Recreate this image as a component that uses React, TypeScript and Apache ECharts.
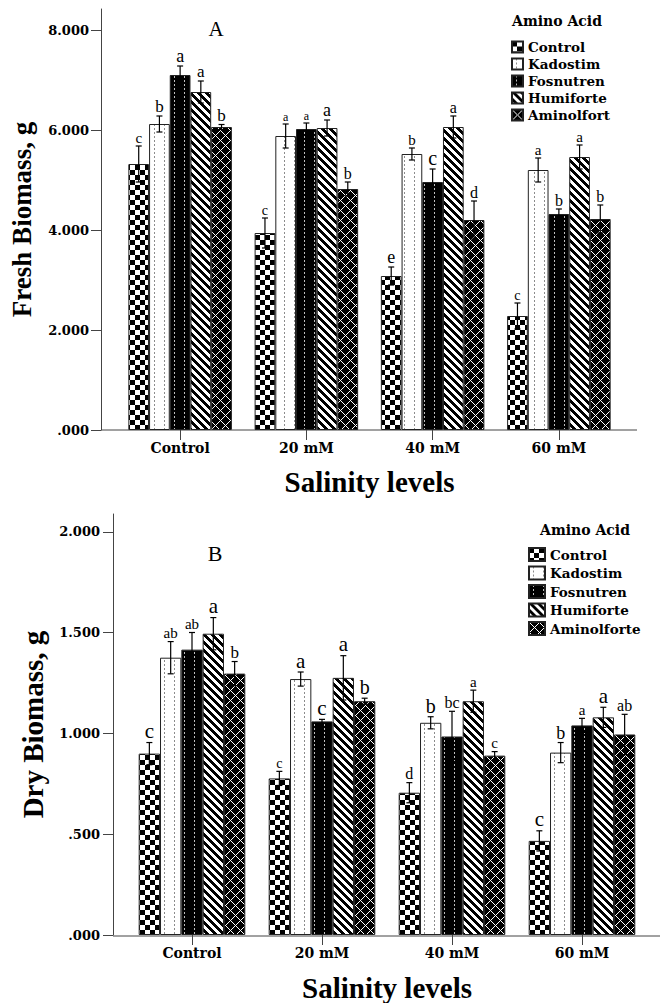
import React, { useEffect, useRef } from 'react';
import * as echarts from 'echarts';

// ---------- data ----------
const categories = ['Control', '20 mM', '40 mM', '60 mM'];
const treatmentsA = ['Control', 'Kadostim', 'Fosnutren', 'Humiforte', 'Aminolfort'];
const treatmentsB = ['Control', 'Kadostim', 'Fosnutren', 'Humiforte', 'Aminolforte'];

const yTicksA = [0, 2, 4, 6, 8];
const yTicksB = [0, 0.5, 1, 1.5, 2];

// Fresh biomass (g)
const freshControl = [5.32, 3.94, 3.08, 2.28];
const freshKadostim = [6.12, 5.88, 5.52, 5.2];
const freshFosnutren = [7.1, 6.02, 4.96, 4.32];
const freshHumiforte = [6.76, 6.04, 6.06, 5.46];
const freshAminolfort = [6.06, 4.82, 4.2, 4.22];

const freshControlErr = [0.36, 0.3, 0.18, 0.26];
const freshKadostimErr = [0.16, 0.24, 0.12, 0.24];
const freshFosnutrenErr = [0.18, 0.12, 0.26, 0.1];
const freshHumiforteErr = [0.22, 0.16, 0.22, 0.24];
const freshAminolfortErr = [0.05, 0.14, 0.38, 0.28];

const freshControlLet = ['c', 'c', 'e', 'c'];
const freshKadostimLet = ['b', 'a', 'b', 'a'];
const freshFosnutrenLet = ['a', 'a', 'c', 'b'];
const freshHumiforteLet = ['a', 'a', 'a', 'a'];
const freshAminolfortLet = ['b', 'b', 'd', 'b'];

// Dry biomass (g)
const dryControl = [0.9, 0.777, 0.706, 0.467];
const dryKadostim = [1.376, 1.27, 1.053, 0.905];
const dryFosnutren = [1.416, 1.06, 0.985, 1.04];
const dryHumiforte = [1.495, 1.276, 1.16, 1.08];
const dryAminolforte = [1.297, 1.16, 0.89, 0.995];

const dryControlErr = [0.055, 0.035, 0.05, 0.05];
const dryKadostimErr = [0.08, 0.035, 0.03, 0.05];
const dryFosnutrenErr = [0.085, 0.01, 0.125, 0.035];
const dryHumiforteErr = [0.08, 0.11, 0.055, 0.05];
const dryAminolforteErr = [0.06, 0.015, 0.02, 0.1];

const dryControlLet = ['c', 'c', 'd', 'c'];
const dryKadostimLet = ['ab', 'a', 'b', 'b'];
const dryFosnutrenLet = ['ab', 'c', 'bc', 'a'];
const dryHumiforteLet = ['a', 'a', 'a', 'a'];
const dryAminolforteLet = ['b', 'b', 'c', 'ab'];

// letter font sizes (style)
const letterSizeA = [
  [15, 14, 18, 14],
  [17, 12, 15, 15],
  [18, 12, 20, 16],
  [17, 18, 16, 15],
  [17, 16, 16, 16],
];
const letterSizeB = [
  [21, 14, 16, 21],
  [15, 21, 20, 18],
  [15, 21, 16, 15],
  [21, 21, 15, 21],
  [17, 20, 15, 16],
];

const GAP = 0.18;

function makePattern(kind: string) {
  let w = 8;
  let h = 8;
  if (kind === 'checker') { w = 10; h = 10; }
  if (kind === 'kados' || kind === 'fos') { w = 10; h = 4; }
  if (kind === 'amino') { w = 10; h = 10; }
  const c = document.createElement('canvas');
  c.width = w;
  c.height = h;
  const ctx = c.getContext('2d')!;
  const img = ctx.createImageData(w, h);
  for (let y = 0; y < h; y++) {
    for (let x = 0; x < w; x++) {
      let v = 255;
      if (kind === 'checker') {
        v = (Math.floor(x / 5) + Math.floor(y / 5)) % 2 === 0 ? 0 : 255;
      } else if (kind === 'kados') {
        v = x === 4 && y < 2 ? 140 : 255;
      } else if (kind === 'fos') {
        v = x === 4 && y < 2 ? 190 : 0;
      } else if (kind === 'humi') {
        v = (((x - y) % 8) + 8) % 8 < 4 ? 0 : 255;
      } else if (kind === 'amino') {
        const a = (x + y) % 10;
        const b = (((x - y) % 10) + 10) % 10;
        v = a === 0 || b === 0 ? 255 : 0;
      }
      const i = (y * w + x) * 4;
      img.data[i] = v;
      img.data[i + 1] = v;
      img.data[i + 2] = v;
      img.data[i + 3] = 255;
    }
  }
  ctx.putImageData(img, 0, 0);
  return { image: c.toDataURL(), repeat: 'repeat', imageWidth: w, imageHeight: h };
}

const tickFmt = (v: number) => {
  const s = Number(v).toFixed(3);
  return s.startsWith('0') ? s.slice(1) : s;
};

const labelFont = { fontFamily: 'DejaVu Serif', fontWeight: 'bold' as const, color: '#000' };
const axisColor = '#444';

function errSeries(
  gi: number, si: number, means: number[], errs: number[], letters: string[], sizes: number[]
) {
  return {
    type: 'custom',
    xAxisIndex: gi,
    yAxisIndex: gi,
    z: 5,
    silent: true,
    data: means.map((m, k) => [k, m, errs[k]]),
    renderItem: (params: any, api: any) => {
      const cat = api.value(0);
      const val = api.value(1);
      const err = api.value(2);
      const band = api.size([1, 0])[0];
      const group = band * (1 - GAP);
      const bw = group / 5;
      const cx = api.coord([cat, val])[0] - group / 2 + bw * (si + 0.5);
      const yT = api.coord([cat, val + err])[1];
      const yB = api.coord([cat, val - err])[1];
      const cap = 3;
      const ls = { stroke: '#000', lineWidth: 1.2 };
      return {
        type: 'group',
        children: [
          { type: 'line', shape: { x1: cx, y1: yT, x2: cx, y2: yB }, style: ls },
          { type: 'line', shape: { x1: cx - cap, y1: yT, x2: cx + cap, y2: yT }, style: ls },
          { type: 'line', shape: { x1: cx - cap, y1: yB, x2: cx + cap, y2: yB }, style: ls },
          {
            type: 'text',
            style: {
              text: letters[params.dataIndex],
              x: cx,
              y: yT - 1,
              textAlign: 'center',
              textVerticalAlign: 'bottom',
              font: `${sizes[params.dataIndex]}px "Liberation Serif"`,
              fill: '#000',
            },
          },
        ],
      };
    },
  };
}

export default function App() {
  const ref = useRef<HTMLDivElement>(null);
  useEffect(() => {
    if (!ref.current) return;
    const chart = echarts.init(ref.current, undefined, { renderer: 'svg' });
    const pats = ['checker', 'kados', 'fos', 'humi', 'amino'].map(makePattern);

    const freshMeans = [freshControl, freshKadostim, freshFosnutren, freshHumiforte, freshAminolfort];
    const freshErrs = [freshControlErr, freshKadostimErr, freshFosnutrenErr, freshHumiforteErr, freshAminolfortErr];
    const freshLets = [freshControlLet, freshKadostimLet, freshFosnutrenLet, freshHumiforteLet, freshAminolfortLet];
    const dryMeans = [dryControl, dryKadostim, dryFosnutren, dryHumiforte, dryAminolforte];
    const dryErrs = [dryControlErr, dryKadostimErr, dryFosnutrenErr, dryHumiforteErr, dryAminolforteErr];
    const dryLets = [dryControlLet, dryKadostimLet, dryFosnutrenLet, dryHumiforteLet, dryAminolforteLet];

    const barSeries = (gi: number, names: string[], means: number[][]) =>
      names.map((n, i) => ({
        type: 'bar',
        name: n,
        xAxisIndex: gi,
        yAxisIndex: gi,
        data: means[i],
        barGap: '0%',
        barCategoryGap: `${GAP * 100}%`,
        itemStyle: { color: pats[i], borderColor: '#222', borderWidth: 1 },
      }));

    const xAxisCommon = (gi: number, gap: number) => ({
      type: 'category',
      gridIndex: gi,
      data: categories,
      axisLine: { show: false },
      axisTick: { show: true, alignWithLabel: true, length: 10, lineStyle: { color: axisColor } },
      axisLabel: { ...labelFont, fontSize: 14, margin: 11 },
      name: 'Salinity levels',
      nameLocation: 'middle',
      nameGap: gap,
      nameTextStyle: { fontFamily: 'Liberation Serif', fontWeight: 'bold', fontSize: 29, color: '#000' },
    });

    const yAxisCommon = (gi: number, max: number, interval: number, ticks: number[], name: string, offset: number, margin: number, fs: number) => ({
      type: 'value',
      gridIndex: gi,
      min: 0,
      max,
      interval,
      offset,
      axisLine: { show: true, lineStyle: { color: axisColor } },
      axisTick: { show: true, length: 10, customValues: ticks, lineStyle: { color: axisColor } },
      axisLabel: { ...labelFont, fontSize: 13, margin, customValues: ticks, formatter: tickFmt },
      splitLine: { show: false },
      name,
      nameLocation: 'middle',
      nameGap: 66,
      nameTextStyle: { fontFamily: 'Liberation Serif', fontWeight: 'bold', fontSize: fs, color: '#000' },
    });

    const legendCommon = {
      orient: 'vertical',
      padding: 0,
      icon: 'rect',
      selectedMode: false,
      textStyle: { fontFamily: 'DejaVu Serif', fontWeight: 'bold', fontSize: 13.5, lineHeight: 14, color: '#000' },
    };

    chart.setOption({
      animation: false,
      backgroundColor: '#fff',
      grid: [
        { left: 117, top: 9, width: 505, height: 421 },
        { left: 127, top: 514, width: 520, height: 422 },
      ],
      xAxis: [xAxisCommon(0, 37), xAxisCommon(1, 38)],
      yAxis: [
        yAxisCommon(0, 8.42, 2, yTicksA, 'Fresh Biomass, g', 16, 12, 27),
        yAxisCommon(1, 2.089, 0.5, yTicksB, 'Dry Biomass, g', 14, 13, 29),
      ],
      legend: [
        { ...legendCommon, left: 511, top: 40, itemWidth: 11, itemHeight: 11, itemGap: 3, data: treatmentsA },
        { ...legendCommon, left: 528, top: 547, itemWidth: 16, itemHeight: 13, itemGap: 3.5, data: treatmentsB },
      ],
      graphic: [
        { type: 'line', shape: { x1: 101, y1: 430, x2: 637, y2: 430 }, style: { stroke: axisColor, lineWidth: 1 } },
        { type: 'line', shape: { x1: 113, y1: 936, x2: 660, y2: 936 }, style: { stroke: axisColor, lineWidth: 1 } },
        { type: 'text', x: 216, y: 29, style: { text: 'A', font: '21px "Liberation Serif"', fill: '#000', textAlign: 'center', textVerticalAlign: 'middle' } },
        { type: 'text', x: 215, y: 553, style: { text: 'B', font: '22px "Liberation Serif"', fill: '#000', textAlign: 'center', textVerticalAlign: 'middle' } },
        { type: 'text', x: 557, y: 21, style: { text: 'Amino Acid', font: 'bold 14px "DejaVu Serif"', fill: '#000', textAlign: 'center', textVerticalAlign: 'middle' } },
        { type: 'text', x: 585, y: 530, style: { text: 'Amino Acid', font: 'bold 14px "DejaVu Serif"', fill: '#000', textAlign: 'center', textVerticalAlign: 'middle' } },
      ],
      series: [
        ...barSeries(0, treatmentsA, freshMeans),
        ...barSeries(1, treatmentsB, dryMeans),
        ...freshMeans.map((m, i) => errSeries(0, i, m, freshErrs[i], freshLets[i], letterSizeA[i])),
        ...dryMeans.map((m, i) => errSeries(1, i, m, dryErrs[i], dryLets[i], letterSizeB[i])),
      ],
    } as any);
    return () => chart.dispose();
  }, []);
  return <div ref={ref} style={{ position: 'absolute', left: 0, top: 0, width: 660, height: 1003 }} />;
}
